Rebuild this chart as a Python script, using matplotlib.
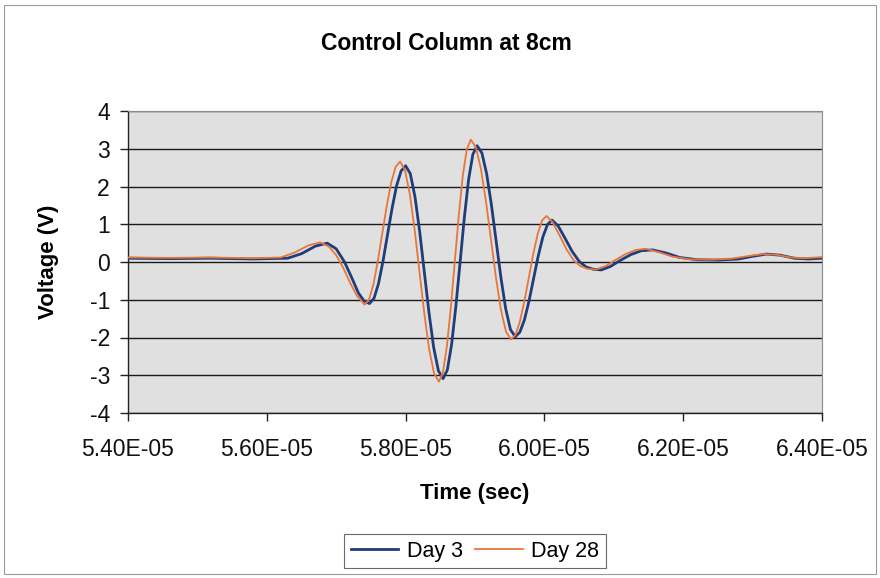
import numpy as np
import matplotlib
matplotlib.use("Agg")
import matplotlib.pyplot as plt
from matplotlib.patches import Rectangle
from matplotlib.ticker import FuncFormatter

plt.rcParams['font.family'] = ['Liberation Sans', 'DejaVu Sans']
plt.rcParams['axes.unicode_minus'] = False

# Time in microseconds (converted to seconds below), voltage in V
day3_time_us = [54.00, 54.60, 55.20, 55.80, 56.30, 56.50, 56.70, 56.87, 57.00, 57.12, 57.22, 57.32, 57.40, 57.48,
                57.545, 57.61, 57.675, 57.74, 57.805, 57.87, 57.935, 58.00,
                58.0675, 58.135, 58.2025, 58.27, 58.3375, 58.405, 58.4725, 58.54,
                58.601, 58.6625, 58.724, 58.785, 58.846, 58.9075, 58.969, 59.03,
                59.099, 59.1675, 59.236, 59.305, 59.374, 59.4425, 59.511, 59.58,
                59.646, 59.7125, 59.779, 59.845, 59.911, 59.9775, 60.044, 60.11,
                60.20, 60.30, 60.40, 60.50, 60.60, 60.70, 60.82, 60.95, 61.10, 61.25, 61.40, 61.56,
                61.75, 61.95, 62.20, 62.50, 62.80, 63.00, 63.20, 63.40, 63.60, 63.80, 64.00]
day3_volt = [0.10, 0.09, 0.10, 0.08, 0.10, 0.22, 0.42, 0.50, 0.35, 0.00, -0.40, -0.82, -1.03, -1.10,
             -0.96, -0.57, 0.03, 0.73, 1.42, 2.02, 2.41, 2.55,
             2.34, 1.73, 0.81, -0.27, -1.35, -2.27, -2.88, -3.09,
             -2.86, -2.19, -1.18, -0.01, 1.17, 2.18, 2.85, 3.08,
             2.89, 2.34, 1.52, 0.55, -0.42, -1.24, -1.79, -1.98,
             -1.86, -1.53, -1.03, -0.43, 0.16, 0.66, 0.99, 1.11,
             0.95, 0.62, 0.28, 0.02, -0.13, -0.19, -0.21, -0.12, 0.05, 0.20, 0.30, 0.32,
             0.24, 0.12, 0.06, 0.05, 0.08, 0.15, 0.21, 0.18, 0.10, 0.08, 0.10]

day28_time_us = [54.00, 54.60, 55.20, 55.80, 56.20, 56.40, 56.60, 56.77, 56.90, 57.00, 57.10, 57.20, 57.30, 57.41,
                 57.474, 57.538, 57.601, 57.665, 57.729, 57.793, 57.856, 57.92,
                 57.99, 58.06, 58.13, 58.20, 58.27, 58.34, 58.41, 58.48,
                 58.5375, 58.595, 58.6525, 58.71, 58.7675, 58.825, 58.8825, 58.94,
                 59.0125, 59.085, 59.1575, 59.23, 59.3025, 59.375, 59.4475, 59.52,
                 59.584, 59.648, 59.711, 59.775, 59.839, 59.903, 59.966, 60.03,
                 60.12, 60.22, 60.32, 60.42, 60.52, 60.62, 60.74, 60.88, 61.02, 61.17, 61.32, 61.46,
                 61.65, 61.85, 62.10, 62.40, 62.70, 62.95, 63.15, 63.35, 63.55, 63.75, 64.00]
day28_volt = [0.12, 0.11, 0.12, 0.10, 0.12, 0.25, 0.44, 0.52, 0.40, 0.18, -0.15, -0.55, -0.90, -1.13,
              -0.99, -0.58, 0.04, 0.77, 1.49, 2.11, 2.52, 2.66,
              2.44, 1.81, 0.86, -0.26, -1.37, -2.32, -2.95, -3.17,
              -2.93, -2.23, -1.19, 0.04, 1.26, 2.30, 2.99, 3.24,
              3.04, 2.47, 1.61, 0.60, -0.42, -1.28, -1.85, -2.05,
              -1.93, -1.57, -1.04, -0.42, 0.21, 0.74, 1.10, 1.22,
              1.05, 0.70, 0.33, 0.05, -0.11, -0.18, -0.20, -0.11, 0.05, 0.21, 0.32, 0.35,
              0.26, 0.14, 0.07, 0.06, 0.09, 0.16, 0.21, 0.19, 0.12, 0.10, 0.13]

x_ticks = [5.4e-5, 5.6e-5, 5.8e-5, 6.0e-5, 6.2e-5, 6.4e-5]
y_ticks = [-4, -3, -2, -1, 0, 1, 2, 3, 4]

t3 = np.array(day3_time_us) * 1e-6
t28 = np.array(day28_time_us) * 1e-6

fig = plt.figure(figsize=(8.8, 5.78), dpi=100)
fig.patch.set_facecolor('white')
fig.add_artist(Rectangle((4/880, 4/578), 872/880, 569/578, transform=fig.transFigure,
                         fill=False, edgecolor='#9a9a9a', linewidth=0.8))

ax = fig.add_axes([128/880, 1 - 413/578, 694/880, 302/578])
ax.set_facecolor('#e0e0e0')

ax.plot(t3, day3_volt, color='#1f3d7a', linewidth=2.0, label='Day 3', zorder=3)
ax.plot(t28, day28_volt, color='#e8763a', linewidth=1.3, label='Day 28', zorder=4)

ax.set_xlim(5.4e-5, 6.4e-5)
ax.set_ylim(-4, 4)
ax.set_xticks(x_ticks)
ax.set_yticks(y_ticks)
ax.xaxis.set_major_formatter(FuncFormatter(lambda v, p: ('%.2E' % v)))
ax.yaxis.grid(True, color='#1a1a1a', linewidth=1.0)
ax.set_axisbelow(True)

for s in ['top', 'right']:
    ax.spines[s].set_color('#8a8a8a')
    ax.spines[s].set_linewidth(0.8)
for s in ['left', 'bottom']:
    ax.spines[s].set_color('#222222')
    ax.spines[s].set_linewidth(1.0)

ax.tick_params(axis='both', direction='out', length=6, width=1.0, colors='#222222',
               labelsize=16.5, labelcolor='#111111')
ax.tick_params(axis='x', pad=12)
ax.tick_params(axis='y', pad=7)

ax.set_xlabel('Time (sec)', fontsize=16, fontweight='bold', labelpad=16)
ax.set_ylabel('Voltage (V)', fontsize=16, fontweight='bold', labelpad=22)
fig.text(446/880, 1 - 43/578, 'Control Column at 8cm', ha='center', va='center',
         fontsize=16.5, fontweight='bold')

leg = fig.legend(loc='center', bbox_to_anchor=(475/880, 1 - 551/578), ncol=2,
                 frameon=True, fancybox=False, fontsize=15.5, handlelength=2.2,
                 handletextpad=0.4, columnspacing=0.6, borderpad=0.3)
leg.get_frame().set_edgecolor('#444444')
leg.get_frame().set_linewidth(0.8)

fig.savefig('out.png', dpi=100)
